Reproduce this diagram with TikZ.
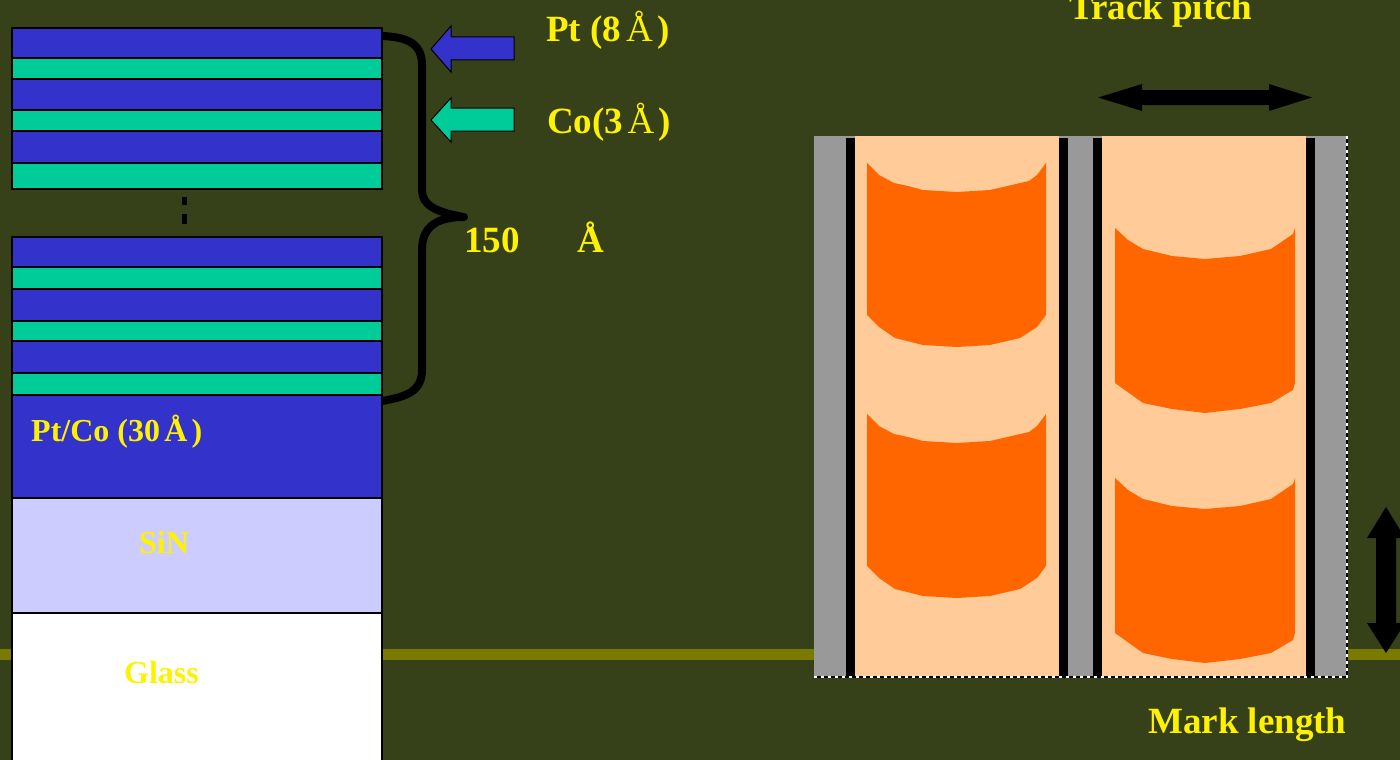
\documentclass[tikz,border=0pt]{standalone}
\usepackage{fontspec}
\setmainfont{Liberation Serif}
\definecolor{bgolive}{HTML}{36411A}
\definecolor{bandolive}{HTML}{7A7A00}
\definecolor{ptblue}{HTML}{3333CC}
\definecolor{cogreen}{HTML}{00CC99}
\definecolor{sinlav}{HTML}{CCCCFF}
\definecolor{trackgray}{HTML}{999999}
\definecolor{peach}{HTML}{FFCC99}
\definecolor{markorange}{HTML}{FF6600}
\tikzset{
  ptlayer/.style={draw=black,line width=2pt,fill=ptblue},
  colayer/.style={draw=black,line width=2pt,fill=cogreen},
  bigtext/.style={anchor=base west,inner sep=0pt,text=yellow,font=\fontsize{37}{40}\selectfont\bfseries},
  smalltext/.style={anchor=base west,inner sep=0pt,text=yellow,font=\fontsize{32}{36}\selectfont\bfseries},
  markshape/.style={fill=markorange,draw=none},
  blackbar/.style={fill=black,draw=none},
}
\newcommand{\trackamark}{(867,163) -- (879,175) -- (894,183) -- (908,186) -- (923,190) -- (957,192) -- (990,190) -- (1029,181) -- (1037,175) -- (1046,163) -- (1046,315) -- (1037,327) -- (1020,338) -- (990,345) -- (957,347) -- (923,345) -- (895,338) -- (879,327) -- (867,315) -- cycle}
\newcommand{\trackbmark}{(1115,478) -- (1128,490) -- (1143,499) -- (1172,506) -- (1205,509) -- (1240,506) -- (1271,499) -- (1293,484) -- (1295,478) -- (1295,633) -- (1293,640) -- (1271,653) -- (1240,659) -- (1205,663) -- (1172,659) -- (1143,653) -- (1115,633) -- cycle}
\begin{document}
\begin{tikzpicture}[x=1pt,y=-1pt]
\useasboundingbox (0,0) rectangle (1400,760);
\clip (0,0) rectangle (1400,760);
\fill [bgolive] (0,0) rectangle (1400,760);
\fill [bandolive] (0,649) rectangle (1400,660);
% layer stack
\draw [ptlayer] (12,28) rectangle (382,58);
\draw [colayer] (12,58) rectangle (382,79);
\draw [ptlayer] (12,79) rectangle (382,110);
\draw [colayer] (12,110) rectangle (382,131);
\draw [ptlayer] (12,131) rectangle (382,163);
\draw [colayer] (12,163) rectangle (382,189);
\fill [black] (182,197) rectangle (187,205);
\fill [black] (182,214) rectangle (187,224);
\draw [ptlayer] (12,237) rectangle (382,267);
\draw [colayer] (12,267) rectangle (382,289);
\draw [ptlayer] (12,289) rectangle (382,321);
\draw [colayer] (12,321) rectangle (382,341);
\draw [ptlayer] (12,341) rectangle (382,373);
\draw [colayer] (12,373) rectangle (382,395);
\draw [ptlayer] (12,395) rectangle (382,498);
\draw [line width=2pt,fill=sinlav] (12,498) rectangle (382,613);
\draw [line width=2pt,fill=white] (12,613) rectangle (382,770);
% brace
\draw [line width=8pt,line join=round]
  (382,36) .. controls (405,37) and (422,42) .. (422,65) -- (422,190)
  .. controls (422,205) and (435,212) .. (464,217)
  .. controls (435,217) and (422,228) .. (422,250) -- (422,370)
  .. controls (422,392) and (405,397) .. (382,401);
% small arrows
\draw [line width=1pt,fill=ptblue] (431,49) -- (451,26) -- (451,37) -- (514,37) -- (514,60) -- (451,60) -- (451,72) -- cycle;
\draw [line width=1pt,fill=cogreen] (431,120) -- (451,98) -- (451,108) -- (514,108) -- (514,131) -- (451,131) -- (451,142) -- cycle;
% labels
\node [bigtext] (ptlabel) at (546,42) {Pt (8\kern5pt{\mdseries Å}\kern5pt)};
\node [bigtext] (colabel) at (547,133) {Co(3\kern4.5pt{\mdseries Å}\kern4.5pt)};
\node [bigtext] (thick) at (464,252) {150};
\node [bigtext] (thickunit) at (577,252) {Å};
\node [smalltext] (seedlabel) at (31,441) {Pt/Co (30\kern4.3pt Å\kern4.3pt)};
\node [smalltext] (sinlabel) at (139,553) {SiN};
\node [smalltext] (glasslabel) at (124,683) {Glass};
% tracks
\fill [trackgray] (814,136) rectangle (1347,676);
\fill [peach] (855,136) rectangle (1059,676);
\fill [peach] (1102,136) rectangle (1306,676);
\fill [blackbar] (846,138) rectangle (855,676);
\fill [blackbar] (1059,138) rectangle (1068,676);
\fill [blackbar] (1093,138) rectangle (1102,676);
\fill [blackbar] (1306,138) rectangle (1315,676);
\draw [line width=1.6pt] (814,677) -- (1347,677) -- (1347,136);
\draw [line width=1.6pt,white,dash pattern=on 3pt off 4pt] (814,677) -- (1347,677) -- (1347,136);
% marks
\fill [markshape] \trackamark;
\fill [markshape,yshift=-251pt] \trackamark;
\fill [markshape,yshift=250pt] \trackbmark;
\fill [markshape] \trackbmark;
% double arrows
\fill [black] (1098,97.5) -- (1142,84) -- (1142,90) -- (1269,90) -- (1269,84) -- (1312,97.5) -- (1269,111) -- (1269,105) -- (1142,105) -- (1142,111) -- cycle;
\fill [black] (1386,507) -- (1405,538) -- (1396,538) -- (1396,623) -- (1405,623) -- (1386,653) -- (1367,623) -- (1376,623) -- (1376,538) -- (1367,538) -- cycle;
\node [bigtext] (tracklabel) at (1069,20) {Track pitch};
\node [bigtext] (marklabel) at (1148,733) {Mark length};
\end{tikzpicture}
\end{document}
